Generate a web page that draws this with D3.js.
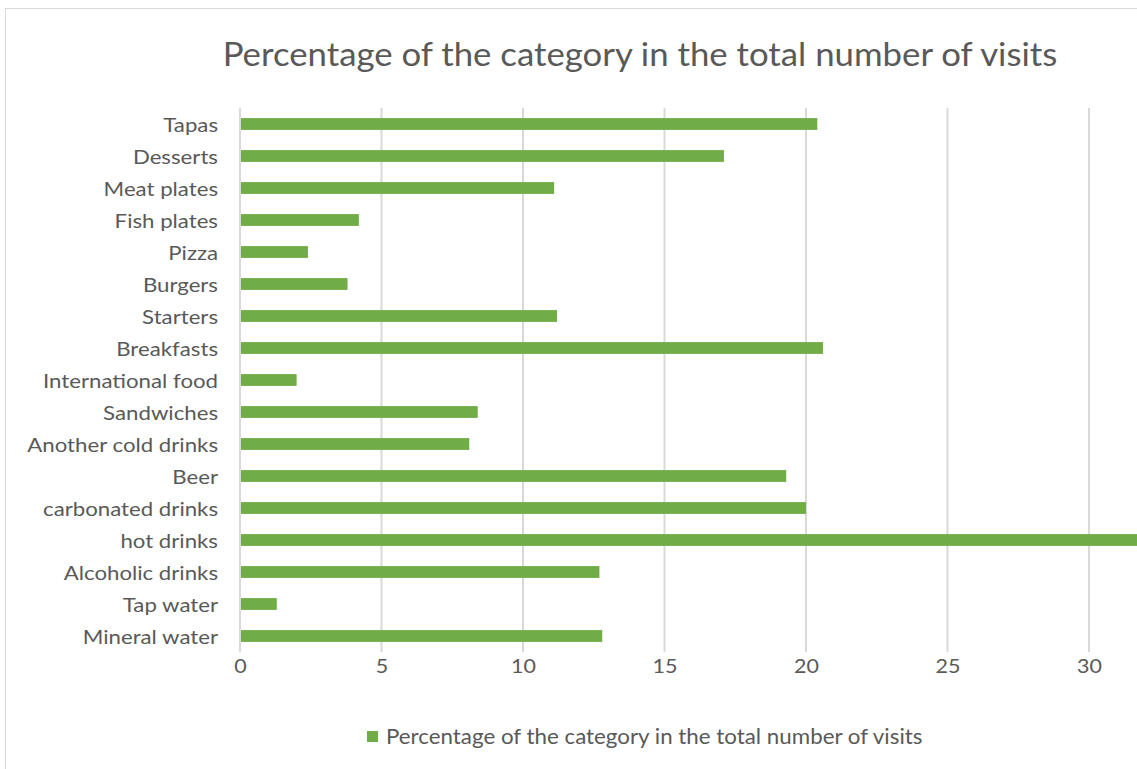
<!DOCTYPE html>
<html><head><meta charset="utf-8">
<script src="https://cdn.jsdelivr.net/npm/d3@7"></script>
<style>html,body{margin:0;padding:0;background:#fff;overflow:hidden}</style>
</head><body>
<script>
const categories = ["Tapas","Desserts","Meat plates","Fish plates ","Pizza","Burgers","Starters","Breakfasts","International food","Sandwiches","Another cold drinks","Beer","carbonated drinks","hot drinks","Alcoholic drinks","Tap water","Mineral water"];
const values = [20.4,17.1,11.1,4.2,2.4,3.8,11.2,20.6,2.0,8.4,8.1,19.3,20.0,32.5,12.7,1.3,12.8];
const xTicks = [0,5,10,15,20,25,30];
const seriesName = "Percentage of the category in the total number of visits";
const titleText = "Percentage of the category in the total number of visits";

const W = 1137, H = 769;
const FONT = "Lato, 'Open Sans', sans-serif";
const svg = d3.select("body").append("svg").attr("width", W).attr("height", H)
  .style("font-family", FONT);

svg.append("rect").attr("x",5.5).attr("y",8.5).attr("width",1300).attr("height",900)
  .attr("fill","#fff").attr("stroke","#d9d9d9");

const x = d3.scaleLinear().domain([0,35]).range([240, 240 + 35*28.3]);
const y = d3.scaleBand().domain(categories).range([108, 652]).paddingInner(0.63).paddingOuter(0.315);

const g = svg.append("g");
g.selectAll("line.grid").data(xTicks.concat([35])).join("line").attr("class","grid")
  .attr("x1", d=>x(d)).attr("x2", d=>x(d)).attr("y1",108).attr("y2",652)
  .attr("stroke","#d9d9d9").attr("stroke-width",2);

g.selectAll("rect.bar").data(values).join("rect").attr("class","bar")
  .attr("x", x(0)+1).attr("y",(d,i)=>y(categories[i]))
  .attr("width", d=>x(d)-x(0)-1).attr("height", y.bandwidth())
  .attr("fill","#70AD47");

const sx = 1.1;
const xAxis = d3.axisBottom(x).tickValues(xTicks).tickSize(0).tickPadding(0);
const ax = svg.append("g").attr("transform","translate(0,652)").call(xAxis);
ax.select(".domain").remove();
ax.selectAll("text").attr("y", 0).attr("dy", "21").attr("font-size","19.5px").attr("fill","#595959")
  .attr("transform", `scale(${sx},1)`)
  .style("font-family", FONT);

const sy = 1.14;
const yAxis = d3.axisLeft(y).tickSize(0).tickPadding(22);
const ay = svg.append("g").attr("transform","translate(240,1.5)").call(yAxis);
ay.select(".domain").remove();
ay.selectAll("text").attr("x", -22/sy).attr("font-size","19.5px").attr("fill","#595959")
  .attr("transform", `scale(${sy},1)`)
  .style("font-family", FONT);

svg.append("text").attr("transform","translate(640,66) scale(1.07,1)").attr("text-anchor","middle")
  .attr("font-size","32.5px").attr("fill","#595959").text(titleText);

const lg = svg.append("g");
lg.append("rect").attr("x",367).attr("y",731).attr("width",11).attr("height",11).attr("fill","#70AD47");
lg.append("text").attr("transform","translate(386,744) scale(1.09,1)").attr("font-size","20.5px").attr("fill","#595959").text(seriesName);
</script>
</body></html>
